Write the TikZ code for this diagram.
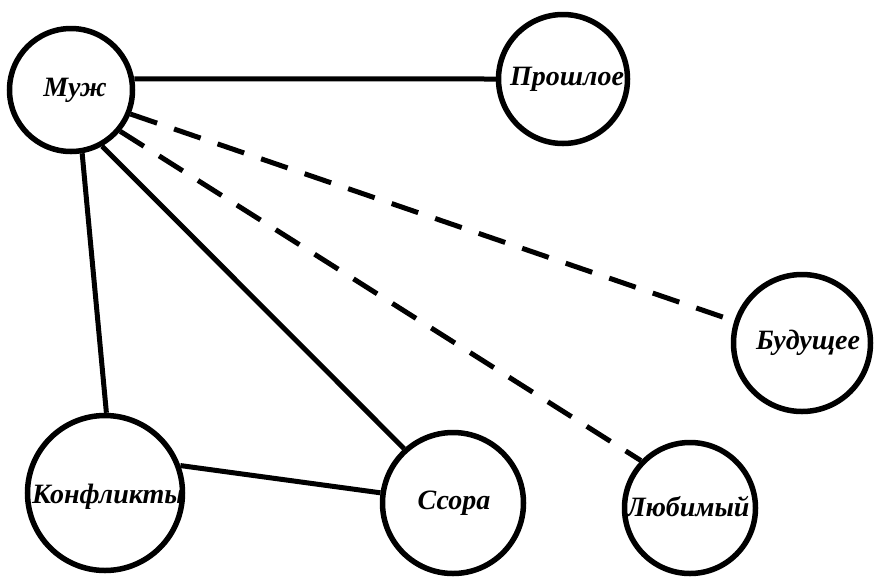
\documentclass[tikz,border=0pt]{standalone}
\usepackage{fontspec}
\setmainfont{Liberation Serif}
\begin{document}
\begin{tikzpicture}[x=1pt,y=-1pt,
  circ/.style={circle,draw,line width=5.5pt,inner sep=0pt},
  lbl/.style={font=\fontsize{28}{32}\selectfont\bfseries\itshape,inner sep=0pt},
  link/.style={line width=5pt},
  dlink/.style={line width=5pt,dash pattern=on 28pt off 18pt}]
\useasboundingbox[fill=white] (0,0) rectangle (878,582);
\node[circ,minimum size=123pt] (muz) at (71,90) {};
\node[circ,minimum size=129pt] (prosh) at (563,79) {};
\node[circ,minimum size=137pt] (bud) at (802,343) {};
\node[circ,minimum size=155pt] (konf) at (105,493) {};
\node[circ,minimum size=141pt] (ssora) at (453,503) {};
\node[circ,minimum size=131pt] (lub) at (690,508) {};
\node[lbl] (tmuz) at (75,90) {Муж};
\node[lbl] (tprosh) at (567,79) {Прошлое};
\node[lbl] (tbud) at (808,343) {Будущее};
\node[lbl] (tkonf) at (108,497) {Конфликты};
\node[lbl] (tssora) at (454,503) {Ссора};
\node[lbl] (tlub) at (688,507) {Любимый};
\draw[link] (muz.10) -- (prosh.180);
\draw[dlink] (muz.-22) -- (bud.162);
\draw[dlink] (muz.-40) -- (lub.136);
\draw[link] (muz.-61) -- (ssora.132);
\draw[link] (muz.-80) -- (konf.89);
\draw[link] (konf.20) -- (ssora.172);
\end{tikzpicture}
\end{document}
